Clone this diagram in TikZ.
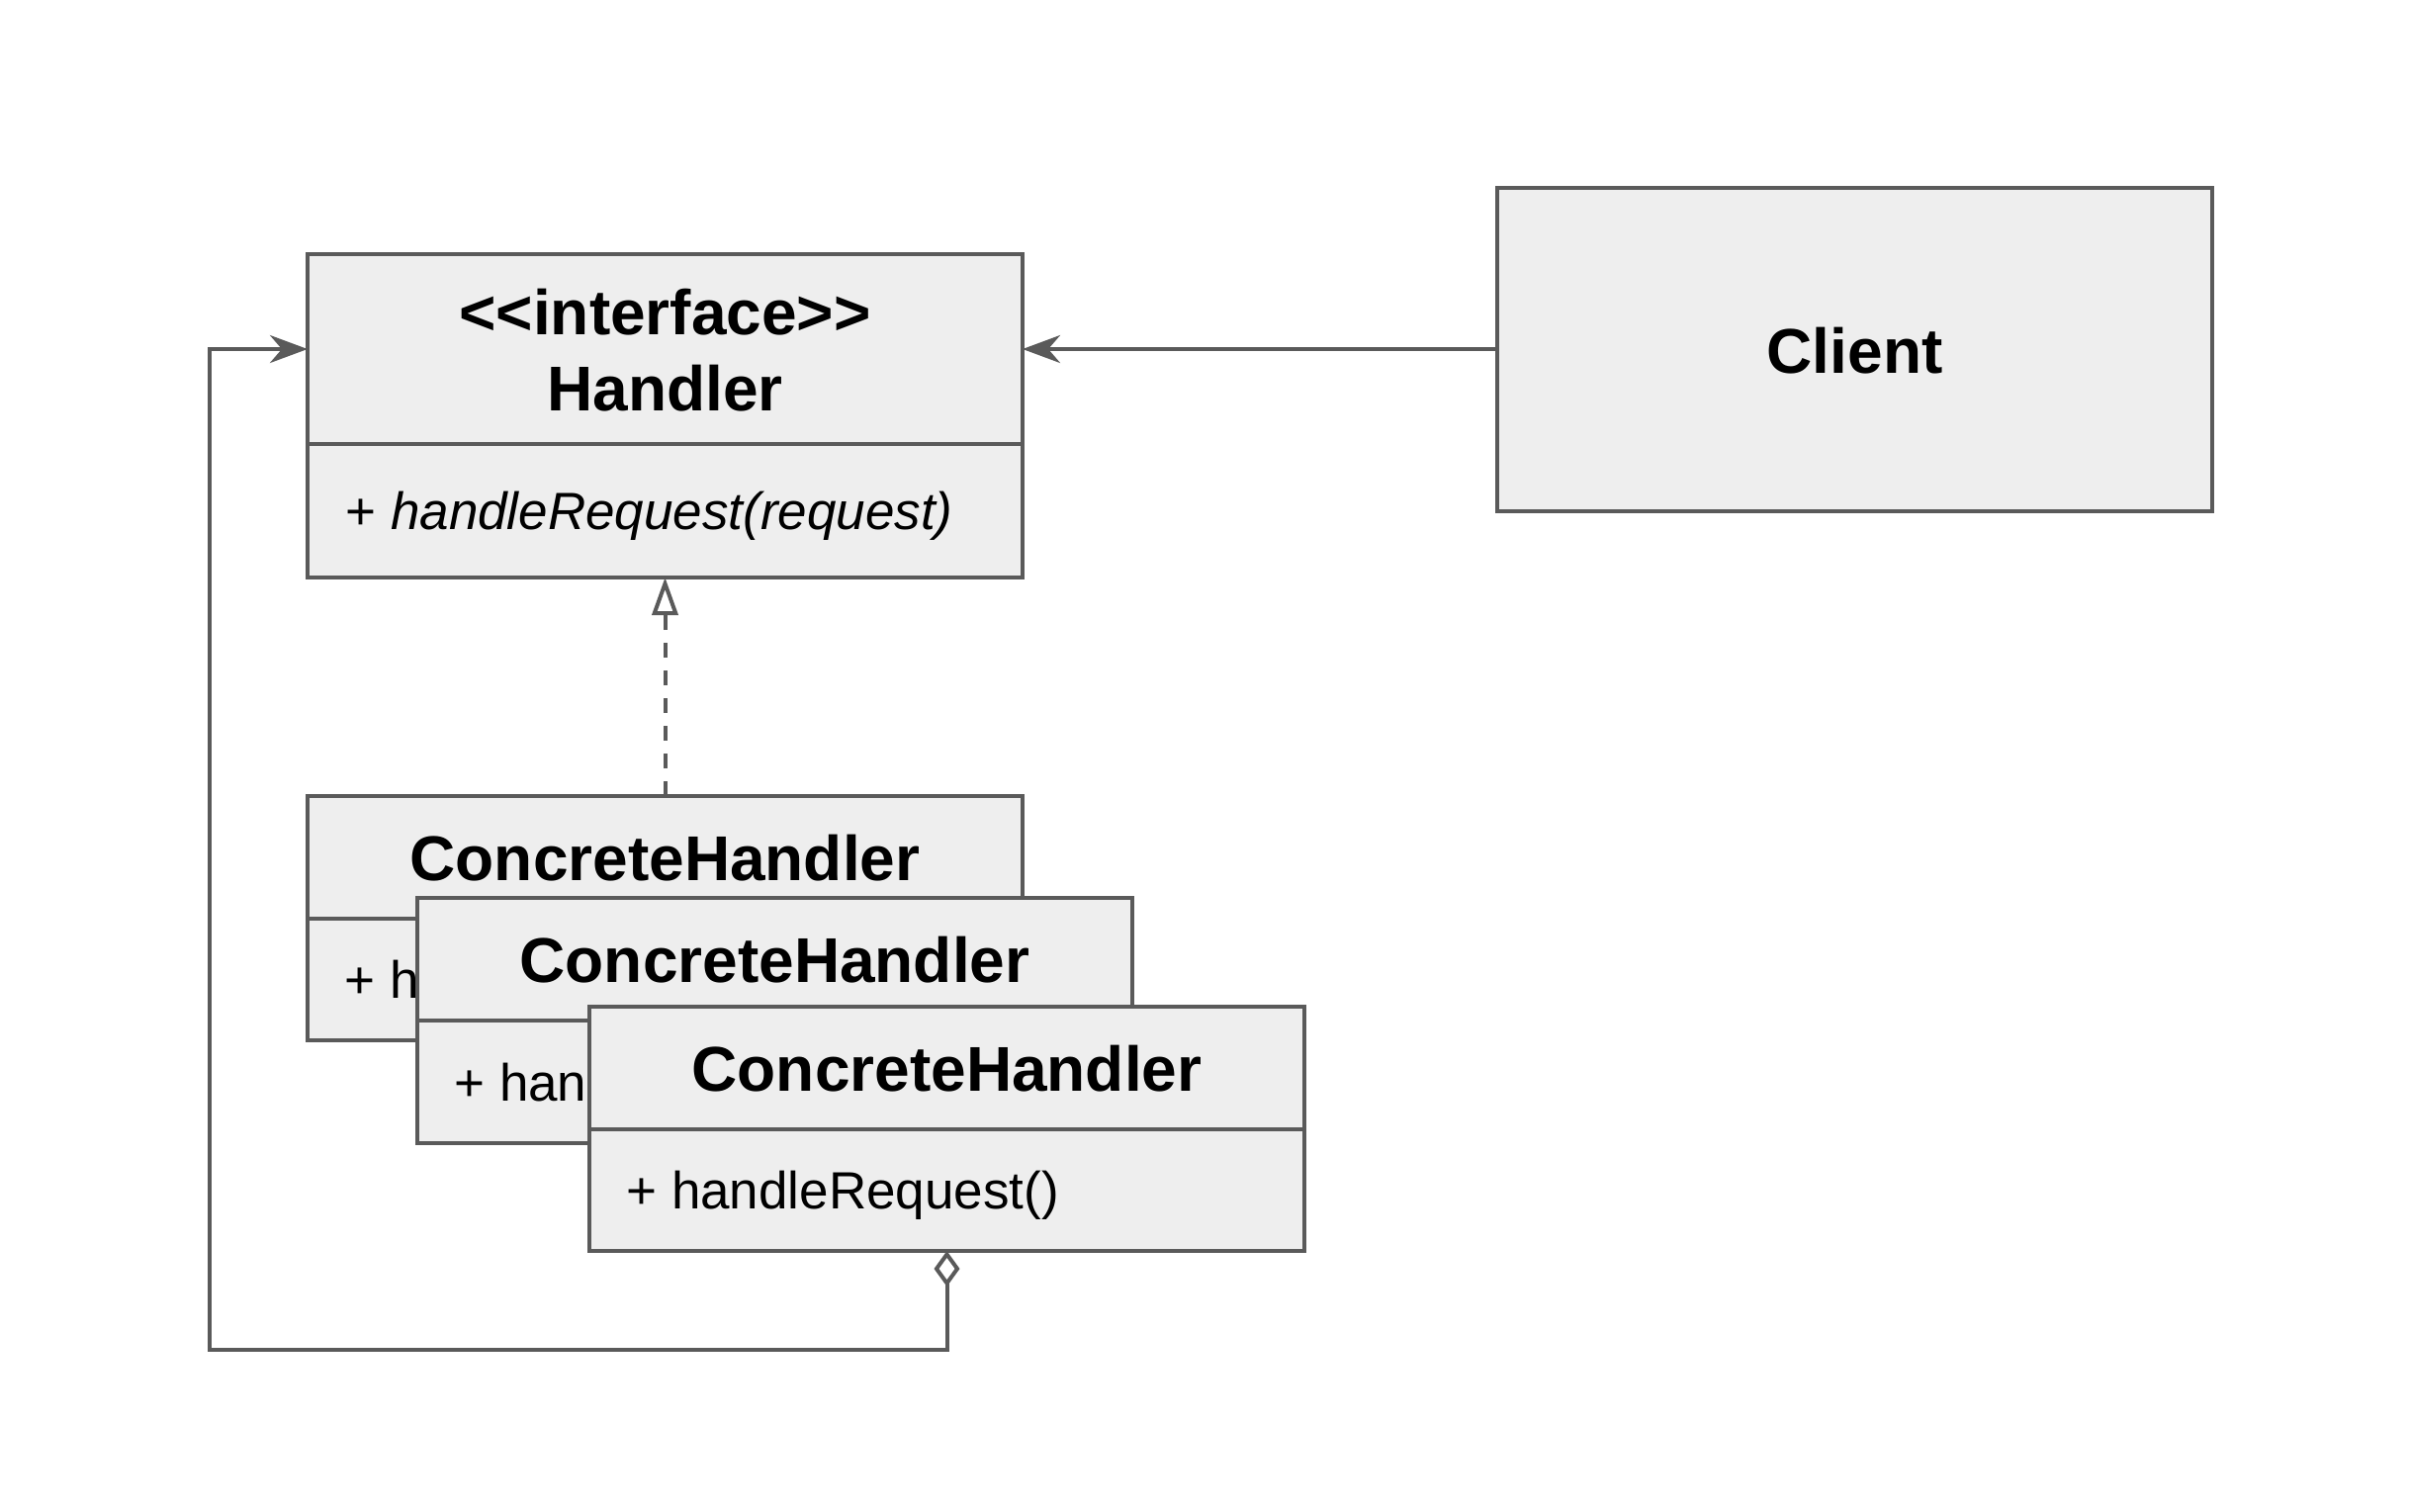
\documentclass[tikz,border=0pt]{standalone}
\usepackage{fontspec}
\setmainfont{Liberation Sans}
\usetikzlibrary{arrows.meta}
\definecolor{lc}{HTML}{5A5A5A}
\definecolor{bg}{HTML}{EEEEEE}
\begin{document}
\begin{tikzpicture}[x=0.5pt,y=-0.5pt,
  box/.style={draw=lc, fill=bg, line width=2pt, inner sep=0pt, outer sep=0pt, anchor=north west, minimum width=361.5pt},
  ttl/.style={font=\fontsize{32pt}{38pt}\selectfont\bfseries, anchor=base, inner sep=0pt, text=black},
  mth/.style={font=\fontsize{26.5pt}{32pt}\selectfont, anchor=base west, inner sep=0pt, text=black},
  conn/.style={draw=lc, line width=2pt},
  headtip/.style={-{Stealth[length=19pt,width=14pt,inset=6pt]}},
]
\fill[white] (0,0) rectangle (2437,1528);
\useasboundingbox (0,0) rectangle (2437,1528);

% Handler interface
\node[box, minimum height=96pt] (h) at (311,257) {};
\node[box, minimum height=67.5pt] (hb) at (311,449) {};
\node[ttl] (ht1) at (672.5,338) {<\kern0pt<interface>\kern0pt>};
\node[ttl] (ht2) at (672.5,415) {Handler};
\node[mth] (hm) at (349,535) {+ \textit{handleRequest(request)}};

% Client
\node[box, minimum height=163.5pt] (c) at (1514,190) {};
\node[ttl] (ct) at (1875.5,377) {Client};

% ConcreteHandler 1
\node[box, minimum height=62pt] (ch1) at (311,805) {};
\node[box, minimum height=61.5pt] (ch1b) at (311,929) {};
\node[ttl] (ch1t) at (672.5,890) {ConcreteHandler};
\node[mth] (ch1m) at (348,1009.5) {+ handleRequest()};

% ConcreteHandler 2
\node[box, minimum height=62pt] (ch2) at (422,908) {};
\node[box, minimum height=62pt] (ch2b) at (422,1032) {};
\node[ttl] (ch2t) at (783.5,993) {ConcreteHandler};
\node[mth] (ch2m) at (459,1113) {+ handleRequest()};

% ConcreteHandler 3
\node[box, minimum height=62pt] (ch3) at (596,1018) {};
\node[box, minimum height=61.5pt] (ch3b) at (596,1142) {};
\node[ttl] (ch3t) at (957.5,1103) {ConcreteHandler};
\node[mth] (ch3m) at (633,1222.5) {+ handleRequest()};

% connectors
\draw[conn, headtip] (c.west |- h.east) -- (h.east);
\draw[conn, dash pattern=on 7.5pt off 6.5pt, -{Triangle[open, length=19pt, width=13pt]}] (ch1.north) -- (hb.south);
\coordinate (lp) at (212,1365);
\draw[conn, {Diamond[open, length=18pt, width=13pt]}-{Stealth[length=19pt,width=14pt,inset=6pt]}] (ch3b.south) |- (lp) |- (h.west);
\end{tikzpicture}
\end{document}
